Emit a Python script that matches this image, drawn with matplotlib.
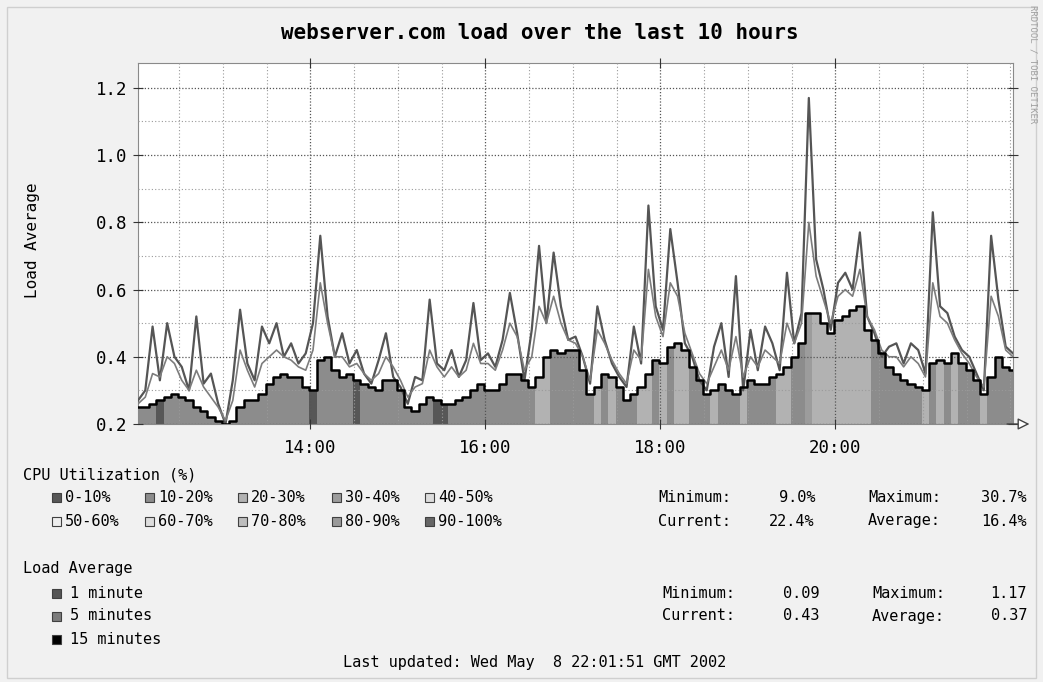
import pandas as pd
import matplotlib.pyplot as plt
import matplotlib.dates as mdates
from matplotlib.patches import Rectangle
from matplotlib.ticker import MultipleLocator, FormatStrFormatter

plt.rcParams['font.family'] = ['DejaVu Sans Mono']

W, H = 1043, 682

# samples every 5 minutes over the last 10 hours
times = pd.date_range('2002-05-08 12:01:51', periods=121, freq='5min')

load_1min = [
    0.27, 0.30, 0.49, 0.33, 0.50, 0.40, 0.37, 0.30, 0.52, 0.32, 0.35, 0.26,
    0.20, 0.33, 0.54, 0.38, 0.33, 0.49, 0.44, 0.50, 0.40, 0.44, 0.38, 0.41,
    0.50, 0.76, 0.52, 0.40, 0.47, 0.38, 0.42, 0.35, 0.32, 0.39, 0.47, 0.34,
    0.31, 0.26, 0.34, 0.33, 0.57, 0.38, 0.36, 0.42, 0.34, 0.39, 0.56, 0.39,
    0.41, 0.37, 0.45, 0.59, 0.47, 0.33, 0.48, 0.73, 0.50, 0.71, 0.55, 0.45,
    0.46, 0.40, 0.32, 0.55, 0.45, 0.38, 0.34, 0.31, 0.49, 0.38, 0.85, 0.55,
    0.48, 0.78, 0.62, 0.44, 0.40, 0.33, 0.30, 0.43, 0.50, 0.34, 0.64, 0.30,
    0.48, 0.36, 0.49, 0.44, 0.36, 0.65, 0.44, 0.53, 1.17, 0.69, 0.60, 0.48,
    0.62, 0.65, 0.60, 0.77, 0.52, 0.47, 0.40, 0.43, 0.44, 0.38, 0.44, 0.42,
    0.35, 0.83, 0.55, 0.53, 0.46, 0.42, 0.40, 0.35, 0.30, 0.76, 0.57, 0.43,
    0.41,
]
load_5min = [
    0.26, 0.28, 0.35, 0.34, 0.40, 0.38, 0.33, 0.30, 0.36, 0.31, 0.28, 0.25,
    0.21, 0.27, 0.42, 0.36, 0.31, 0.38, 0.40, 0.42, 0.40, 0.39, 0.37, 0.36,
    0.42, 0.62, 0.50, 0.40, 0.40, 0.37, 0.38, 0.35, 0.33, 0.35, 0.40, 0.37,
    0.33, 0.28, 0.31, 0.32, 0.42, 0.37, 0.34, 0.37, 0.34, 0.36, 0.44, 0.38,
    0.38, 0.36, 0.42, 0.50, 0.46, 0.36, 0.40, 0.55, 0.50, 0.58, 0.50, 0.45,
    0.44, 0.40, 0.33, 0.48, 0.44, 0.39, 0.35, 0.32, 0.42, 0.39, 0.66, 0.52,
    0.46, 0.62, 0.58, 0.47, 0.41, 0.35, 0.32, 0.37, 0.42, 0.36, 0.46, 0.34,
    0.40, 0.37, 0.42, 0.40, 0.38, 0.50, 0.44, 0.50, 0.80, 0.64, 0.57, 0.50,
    0.58, 0.60, 0.58, 0.66, 0.52, 0.48, 0.42, 0.40, 0.40, 0.37, 0.40, 0.38,
    0.34, 0.62, 0.52, 0.50, 0.45, 0.41, 0.38, 0.34, 0.31, 0.58, 0.52, 0.42,
    0.40,
]
load_15min = [
    0.25, 0.25, 0.26, 0.27, 0.28, 0.29, 0.28, 0.27, 0.25, 0.24, 0.22, 0.21,
    0.20, 0.21, 0.25, 0.27, 0.27, 0.29, 0.32, 0.34, 0.35, 0.34, 0.34, 0.31,
    0.30, 0.39, 0.40, 0.36, 0.34, 0.35, 0.33, 0.32, 0.31, 0.30, 0.33, 0.33,
    0.30, 0.25, 0.24, 0.26, 0.28, 0.27, 0.26, 0.26, 0.27, 0.28, 0.30, 0.32,
    0.30, 0.30, 0.32, 0.35, 0.35, 0.33, 0.31, 0.34, 0.40, 0.42, 0.41, 0.42,
    0.42, 0.36, 0.29, 0.31, 0.35, 0.34, 0.31, 0.27, 0.29, 0.31, 0.35, 0.39,
    0.38, 0.43, 0.44, 0.42, 0.37, 0.33, 0.29, 0.30, 0.32, 0.30, 0.29, 0.31,
    0.33, 0.32, 0.32, 0.34, 0.35, 0.37, 0.40, 0.44, 0.53, 0.53, 0.50, 0.47,
    0.51, 0.52, 0.54, 0.55, 0.48, 0.45, 0.41, 0.37, 0.35, 0.33, 0.32, 0.31,
    0.30, 0.38, 0.39, 0.38, 0.41, 0.38, 0.36, 0.33, 0.29, 0.34, 0.40, 0.37,
    0.36,
]
# CPU utilisation band (0 = 0-10%, 1 = 10-20%, ...) for each sample
cpu_band = [
    1, 1, 1, 0, 1, 1, 1, 1, 1, 1, 1, 1,
    1, 1, 1, 1, 1, 1, 1, 1, 1, 1, 1, 1,
    0, 1, 1, 1, 1, 1, 0, 1, 1, 1, 1, 1,
    1, 1, 1, 1, 1, 0, 0, 1, 1, 1, 1, 1,
    1, 1, 1, 1, 1, 1, 1, 2, 2, 1, 1, 1,
    1, 1, 1, 2, 1, 2, 1, 1, 1, 2, 2, 1,
    2, 1, 2, 2, 1, 1, 1, 2, 1, 1, 1, 2,
    1, 1, 1, 1, 2, 2, 1, 1, 3, 2, 2, 2,
    2, 2, 2, 2, 2, 1, 1, 1, 1, 1, 1, 1,
    2, 1, 2, 1, 2, 1, 1, 1, 2, 1, 1, 1,
    1,
]

band_labels = ['0-10%', '10-20%', '20-30%', '30-40%', '40-50%',
               '50-60%', '60-70%', '70-80%', '80-90%', '90-100%']
band_colors = ['#575757', '#8c8c8c', '#b2b2b2', '#9c9c9c', '#dcdcdc',
               '#eeeeee', '#dddddd', '#bdbdbd', '#9a9a9a', '#666666']

load_labels = ['1 minute', '5 minutes', '15 minutes']
load_colors = ['#555555', '#7c7c7c', '#000000']

cpu_stats = [['Minimum:', '9.0%', 'Maximum:', '30.7%'],
             ['Current:', '22.4%', 'Average:', '16.4%']]
load_stats = [['Minimum:', '0.09', 'Maximum:', '1.17'],
              ['Current:', '0.43', 'Average:', '0.37']]

fig = plt.figure(figsize=(W / 100, H / 100), dpi=100, facecolor='#f1f1f1')
ax = fig.add_axes([138 / W, 1 - 424 / H, (1013 - 138) / W, (424 - 63) / H])
ax.set_facecolor('white')

# area under the 15 minute load, shaded by CPU band
heights = [v - 0.2 for v in load_15min]
ax.bar(times, heights, bottom=0.2, width=5 / 1440,
       color=[band_colors[b] for b in cpu_band], linewidth=0, zorder=1)

ax.plot(times, load_1min, color=load_colors[0], lw=1.6, zorder=3)
ax.plot(times, load_5min, color=load_colors[1], lw=1.2, zorder=4)
ax.plot(times, load_15min, drawstyle='steps-mid', color=load_colors[2], lw=1.8, zorder=5)

ax.set_xlim(times[0], times[-1])
ax.set_ylim(0.2, 1.274)

ax.xaxis.set_major_locator(mdates.HourLocator(byhour=[14, 16, 18, 20]))
ax.xaxis.set_minor_locator(mdates.MinuteLocator(byminute=[0, 30]))
ax.xaxis.set_major_formatter(mdates.DateFormatter('%H:%M'))
ax.yaxis.set_major_locator(MultipleLocator(0.2))
ax.yaxis.set_minor_locator(MultipleLocator(0.1))
ax.yaxis.set_major_formatter(FormatStrFormatter('%.1f'))

ax.set_axisbelow(False)
ax.grid(which='major', color='#555555', ls=(0, (1, 1.5)), lw=0.9)
ax.grid(which='minor', color='#9a9a9a', ls=(0, (1, 2)), lw=0.8)

ax.tick_params(which='major', direction='inout', length=7, color='#333333',
               labelsize=12.5, top=True, right=True)
ax.tick_params(axis='x', which='major', pad=7)
ax.tick_params(axis='y', which='major', pad=4)
ax.tick_params(which='minor', length=0)
for s in ax.spines.values():
    s.set_color('#8a8a8a')

ax.annotate('', xy=(1.022, 0), xycoords='axes fraction', xytext=(0.99, 0),
            arrowprops=dict(arrowstyle='-|>,head_length=0.7,head_width=0.35',
                            fc='white', ec='#444444', lw=1),
            annotation_clip=False)

fig.add_artist(Rectangle((7 / W, 1 - 678 / H), (1036 - 7) / W, (678 - 7) / H,
                         transform=fig.transFigure, fill=False,
                         ec='#cfcfcf', lw=1))


def put(x, y, s, **kw):
    fig.text(x / W, 1 - y / H, s, va='center', **kw)


def box(x, y, color):
    fig.add_artist(Rectangle((x / W, 1 - (y + 5) / H), 9 / W, 9 / H,
                             transform=fig.transFigure, fc=color,
                             ec='#404040', lw=0.8))


put(540, 33, 'webserver.com load over the last 10 hours', ha='center',
    fontsize=15, fontweight='bold')
put(32, 240, 'Load Average', ha='center', rotation=90, fontsize=11.5)
fig.text(1033 / W, 1 - 5 / H, 'RRDTOOL / TOBI OETIKER', rotation=270,
         ha='center', va='top', fontsize=6.5, color='#a0a0a0')

put(23, 475, 'CPU Utilization (%)', fontsize=11)
cols = [52, 145, 238, 332, 425]
rows = [497, 521]
for k, (lab, col) in enumerate(zip(band_labels, band_colors)):
    bx, by = cols[k % 5], rows[k // 5]
    box(bx, by, col)
    put(bx + 13, by, lab, fontsize=11)

for r, row in enumerate(cpu_stats):
    y = rows[r]
    put(658, y, row[0], fontsize=11)
    put(815, y, row[1], ha='right', fontsize=11)
    put(868, y, row[2], fontsize=11)
    put(1027, y, row[3], ha='right', fontsize=11)

put(23, 568, 'Load Average', fontsize=11)
load_rows = [593, 616, 639]
for lab, col, y in zip(load_labels, load_colors, load_rows):
    box(52, y, col)
    put(70, y, lab, fontsize=11)

for r, row in enumerate(load_stats):
    y = load_rows[r]
    put(662, y, row[0], fontsize=11)
    put(820, y, row[1], ha='right', fontsize=11)
    put(872, y, row[2], fontsize=11)
    put(1027, y, row[3], ha='right', fontsize=11)

put(535, 663, 'Last updated: Wed May  8 22:01:51 GMT 2002', ha='center', fontsize=11)

fig.savefig('out.png', dpi=100, facecolor=fig.get_facecolor())
